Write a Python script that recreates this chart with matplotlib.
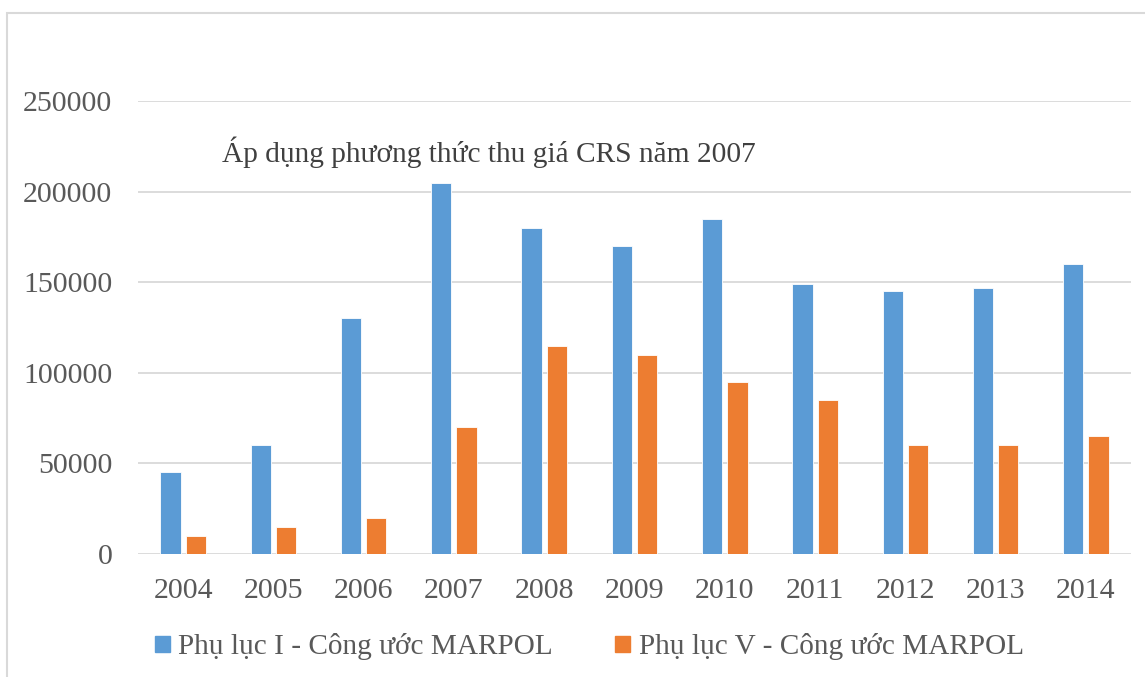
import matplotlib
matplotlib.use("Agg")
import matplotlib.pyplot as plt
import numpy as np
from matplotlib.patches import Rectangle, Patch

years = ["2004", "2005", "2006", "2007", "2008", "2009", "2010", "2011", "2012", "2013", "2014"]
annex_1 = [45000, 60000, 130000, 205000, 180000, 170000, 185000, 149000, 145000, 147000, 160000]
annex_5 = [10000, 15000, 20000, 70000, 115000, 110000, 95000, 85000, 60000, 60000, 65000]
label_1 = "Phụ lục I - Công ước MARPOL"
label_5 = "Phụ lục V - Công ước MARPOL"
note = "Áp dụng phương thức thu giá CRS năm 2007"

blue = "#5B9BD5"
orange = "#ED7D31"
text_color = "#595959"
grid_color = "#D9D9D9"

plt.rcParams["font.family"] = ["Liberation Serif", "DejaVu Serif"]

W, H = 1145, 677
fig = plt.figure(figsize=(W / 100, H / 100), dpi=100)
ax = fig.add_axes([138 / W, 1 - 554 / H, (1131 - 138) / W, (554 - 101) / H])

x = np.arange(len(years))
bw = 0.225
gap = 0.055
ax.bar(x - (bw + gap) / 2, annex_1, width=bw, color=blue, edgecolor="white", linewidth=0.6, zorder=3)
ax.bar(x + (bw + gap) / 2, annex_5, width=bw, color=orange, edgecolor="white", linewidth=0.6, zorder=3)

ax.set_xlim(-0.5, len(years) - 0.5)
ax.set_ylim(0, 250000)
ax.set_yticks(np.arange(0, 250001, 50000))
ax.set_yticklabels([str(v) for v in range(0, 250001, 50000)])
ax.set_xticks(x)
ax.set_xticklabels(years)
ax.yaxis.grid(True, color=grid_color, linewidth=1.3, zorder=0)
ax.set_axisbelow(True)
for s in ax.spines.values():
    s.set_visible(False)
ax.tick_params(axis="both", length=0, labelsize=21.5, colors=text_color)
ax.tick_params(axis="y", pad=18.5)
ax.tick_params(axis="x", pad=17)

fig.text(222 / W, 1 - 152 / H, note, fontsize=21.2, color="#404040", va="center", ha="left")

handles = [Patch(color=blue, label=label_1), Patch(color=orange, label=label_5)]
fig.legend(handles=handles, loc="center left", bbox_to_anchor=(155 / W, 1 - 647 / H), ncol=2,
           frameon=False, fontsize=21.1, labelcolor=text_color, handlelength=0.5, handleheight=0.5,
           handletextpad=0.3, columnspacing=2.12, borderaxespad=0, borderpad=0)

fig.patches.append(Rectangle((7 / W, -0.1), 1.2, 1 - 13 / H + 0.1, transform=fig.transFigure,
                             fill=False, edgecolor=grid_color, linewidth=1.5))

fig.savefig("out.png", dpi=100)
